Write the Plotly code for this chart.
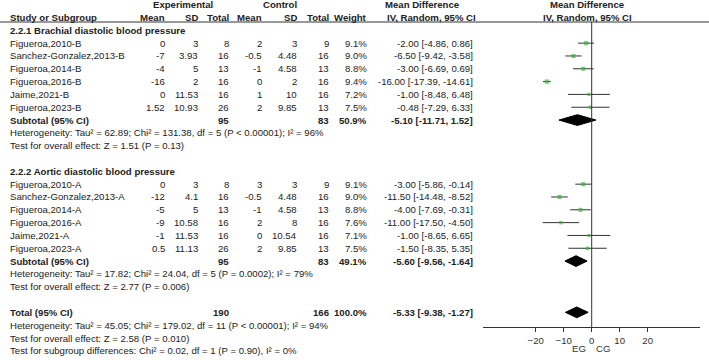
import plotly.graph_objects as go

# ---------------- data ----------------
studies_b = ["Figueroa,2010-B", "Sanchez-Gonzalez,2013-B", "Figueroa,2014-B",
             "Figueroa,2016-B", "Jaime,2021-B", "Figueroa,2023-B"]
exp_mean_b = [0, -7, -4, -16, 0, 1.52]
exp_sd_b = [3, 3.93, 5, 2, 11.53, 10.93]
exp_n_b = [8, 16, 13, 16, 16, 26]
ctl_mean_b = [2, -0.5, -1, 0, 1, 2]
ctl_sd_b = [3, 4.48, 4.58, 2, 10, 9.85]
ctl_n_b = [9, 16, 13, 16, 16, 13]
weight_b = [9.1, 9.0, 8.8, 9.4, 7.2, 7.5]
md_b = [-2.00, -6.50, -3.00, -16.00, -1.00, -0.48]
lo_b = [-4.86, -9.42, -6.69, -17.39, -8.48, -7.29]
hi_b = [0.86, -3.58, 0.69, -14.61, 6.48, 6.33]

studies_a = ["Figueroa,2010-A", "Sanchez-Gonzalez,2013-A", "Figueroa,2014-A",
             "Figueroa,2016-A", "Jaime,2021-A", "Figueroa,2023-A"]
exp_mean_a = [0, -12, -5, -9, -1, 0.5]
exp_sd_a = [3, 4.1, 5, 10.58, 11.53, 11.13]
exp_n_a = [8, 16, 13, 16, 16, 26]
ctl_mean_a = [3, -0.5, -1, 2, 0, 2]
ctl_sd_a = [3, 4.48, 4.58, 8, 10.54, 9.85]
ctl_n_a = [9, 16, 13, 16, 16, 13]
weight_a = [9.1, 9.0, 8.8, 7.6, 7.1, 7.5]
md_a = [-3.00, -11.50, -4.00, -11.00, -1.00, -1.50]
lo_a = [-5.86, -14.48, -7.69, -17.50, -8.65, -8.35]
hi_a = [-0.14, -8.52, -0.31, -4.50, 6.65, 5.35]

group_titles = ["2.2.1 Brachial diastolic blood pressure", "2.2.2 Aortic diastolic blood pressure"]
sub_exp_n = [95, 95]
sub_ctl_n = [83, 83]
sub_weight = [50.9, 49.1]
sub_md = [-5.10, -5.60]
sub_lo = [-11.71, -9.56]
sub_hi = [1.52, -1.64]
sub_het = ["Heterogeneity: Tau² = 62.89; Chi² = 131.38, df = 5 (P < 0.00001); I² = 96%",
           "Heterogeneity: Tau² = 17.82; Chi² = 24.04, df = 5 (P = 0.0002); I² = 79%"]
sub_test = ["Test for overall effect: Z = 1.51 (P = 0.13)",
            "Test for overall effect: Z = 2.77 (P = 0.006)"]

tot_exp_n, tot_ctl_n, tot_weight = 190, 166, 100.0
tot_md, tot_lo, tot_hi = -5.33, -9.38, -1.27
tot_lines = ["Heterogeneity: Tau² = 45.05; Chi² = 179.02, df = 11 (P < 0.00001); I² = 94%",
             "Test for overall effect: Z = 2.58 (P = 0.010)",
             "Test for subgroup differences: Chi² = 0.02, df = 1 (P = 0.90), I² = 0%"]

tick_vals = [-20, -10, 0, 10, 20]
axis_labels = ["EG", "CG"]

# ---------------- layout helpers ----------------
W, H = 709, 360
ROW0, ROWH = 17.5, 12.82          # pixel y of row 0 and row height
def k_of(py):
    return (py - ROW0) / ROWH

FONT = "Liberation Sans, Arial, sans-serif"
TXT = "#222222"
FS = 9.6
GREEN = "#3cb043"

fig = go.Figure()
ann = []

def txt(x, k, s, anchor="left", bold=False, size=FS, color=TXT):
    ann.append(dict(x=x, y=k, xref="x", yref="y", text=("<b>%s</b>" % s) if bold else s,
                    showarrow=False, xanchor=anchor, yanchor="middle",
                    font=dict(family=FONT, size=size, color=color)))

# column right edges (px)
C_EM, C_ESD, C_EN, C_CM, C_CSD, C_CN, C_W, C_MD = 167, 200, 231, 264, 299, 331, 369, 475

# headers
txt(182.5, -1, "Experimental", "center", True)
txt(280, -1, "Control", "center", True)
txt(422, -1, "Mean Difference", "center", True)
txt(587, -1, "Mean Difference", "center", True)
txt(8, 0, "Study or Subgroup", "left", True)
for x, s in [(C_EM, "Mean"), (C_ESD, "SD"), (C_EN, "Total"), (C_CM, "Mean"),
             (C_CSD, "SD"), (C_CN, "Total"), (C_W, "Weight")]:
    txt(x, 0, s, "right", True)
txt(431, 0, "IV, Random, 95% CI", "center", True)
txt(587, 0, "IV, Random, 95% CI", "center", True)

def ci(md, lo, hi):
    return "%.2f [%.2f, %.2f]" % (md, lo, hi)

groups = [
    (studies_b, exp_mean_b, exp_sd_b, exp_n_b, ctl_mean_b, ctl_sd_b, ctl_n_b, weight_b, md_b, lo_b, hi_b),
    (studies_a, exp_mean_a, exp_sd_a, exp_n_a, ctl_mean_a, ctl_sd_a, ctl_n_a, weight_a, md_a, lo_a, hi_a),
]
group_start = [1, 12]

ci_x, ci_y, pt_x, pt_y, pt_s = [], [], [], [], []
diamonds = []
for g, (names, em, esd, en, cm, csd, cn, w, md, lo, hi) in enumerate(groups):
    k = group_start[g]
    txt(8, k, group_titles[g], "left", True)
    for i in range(len(names)):
        r = k + 1 + i
        txt(8, r, names[i])
        txt(C_EM, r, "%g" % em[i], "right")
        txt(C_ESD, r, "%g" % esd[i], "right")
        txt(C_EN, r, "%d" % en[i], "right")
        txt(C_CM, r, "%g" % cm[i], "right")
        txt(C_CSD, r, "%g" % csd[i], "right")
        txt(C_CN, r, "%d" % cn[i], "right")
        txt(C_W, r, "%.1f%%" % w[i], "right")
        txt(C_MD, r, ci(md[i], lo[i], hi[i]), "right")
        ci_x += [lo[i], hi[i], None]
        ci_y += [r, r, None]
        pt_x.append(md[i]); pt_y.append(r); pt_s.append(w[i] * 0.45)
    rs = k + 1 + len(names)
    txt(8, rs, "Subtotal (95% CI)", "left", True)
    txt(C_EN, rs, "%d" % sub_exp_n[g], "right", True)
    txt(C_CN, rs, "%d" % sub_ctl_n[g], "right", True)
    txt(C_W, rs, "%.1f%%" % sub_weight[g], "right", True)
    txt(C_MD, rs, ci(sub_md[g], sub_lo[g], sub_hi[g]), "right", True)
    txt(8, rs + 1, sub_het[g])
    txt(8, rs + 2, sub_test[g])
    diamonds.append((rs, sub_md[g], sub_lo[g], sub_hi[g]))

kt = 23
txt(8, kt, "Total (95% CI)", "left", True)
txt(C_EN, kt, "%d" % tot_exp_n, "right", True)
txt(C_CN, kt, "%d" % tot_ctl_n, "right", True)
txt(C_W, kt, "%.1f%%" % tot_weight, "right", True)
txt(C_MD, kt, ci(tot_md, tot_lo, tot_hi), "right", True)
for j, s in enumerate(tot_lines):
    txt(8, kt + 1 + j, s)
diamonds.append((kt, tot_md, tot_lo, tot_hi))

# axis labels EG / CG
for xv, s in zip([-4.5, 3.9], axis_labels):
    ann.append(dict(x=xv, y=k_of(348.3), xref="x2", yref="y", text=s, showarrow=False,
                    xanchor="center", yanchor="middle",
                    font=dict(family=FONT, size=FS, color="#333")))

# ---------------- forest traces ----------------
fig.add_trace(go.Scatter(x=ci_x, y=ci_y, mode="lines", xaxis="x2", yaxis="y2",
                         line=dict(color="#333333", width=1), hoverinfo="skip", showlegend=False))
fig.add_trace(go.Scatter(x=pt_x, y=pt_y, mode="markers", xaxis="x2", yaxis="y2",
                         marker=dict(symbol="square", size=pt_s, color=GREEN, line=dict(width=0)),
                         showlegend=False))
HH = 0.42
for (r, m, l, h) in diamonds:
    fig.add_trace(go.Scatter(x=[l, m, h, m, l], y=[r, r - HH, r, r + HH, r], mode="lines",
                             fill="toself", fillcolor="black", line=dict(color="black", width=1),
                             xaxis="x2", yaxis="y2", showlegend=False, hoverinfo="skip"))

# ---------------- axes ----------------
PX0, UNIT = 591.7, 2.8         # px of zero, px per unit
AX_L, AX_R = 483, 700
AX_TOP, AX_BOT = 22, 327
fig.update_layout(
    width=W, height=H, margin=dict(l=0, r=0, t=0, b=0),
    paper_bgcolor="white", plot_bgcolor="rgba(0,0,0,0)",
    xaxis=dict(domain=[0, 1], range=[0, W], visible=False, fixedrange=True),
    yaxis=dict(domain=[0, 1], range=[k_of(H), k_of(0)], visible=False, fixedrange=True),
    xaxis2=dict(domain=[AX_L / W, AX_R / W],
                range=[(AX_L - PX0) / UNIT, (AX_R - PX0) / UNIT],
                anchor="y2", showline=True, linecolor="#333", linewidth=1,
                ticks="outside", ticklen=4, tickcolor="#333", tickvals=tick_vals,
                tickfont=dict(family=FONT, size=FS, color="#333"),
                showgrid=False, zeroline=False),
    yaxis2=dict(domain=[(H - AX_BOT) / H, (H - AX_TOP) / H],
                range=[k_of(AX_BOT), k_of(AX_TOP)], anchor="x2", visible=False),
    annotations=ann,
    shapes=[
        dict(type="line", xref="paper", yref="y", x0=0, x1=1, y0=k_of(22), y1=k_of(22),
             line=dict(color="#333", width=1)),
        dict(type="line", xref="x2", yref="y2 domain", x0=0, x1=0, y0=0, y1=1,
             line=dict(color="#333", width=1)),
    ],
)

fig.write_html("out.html")
